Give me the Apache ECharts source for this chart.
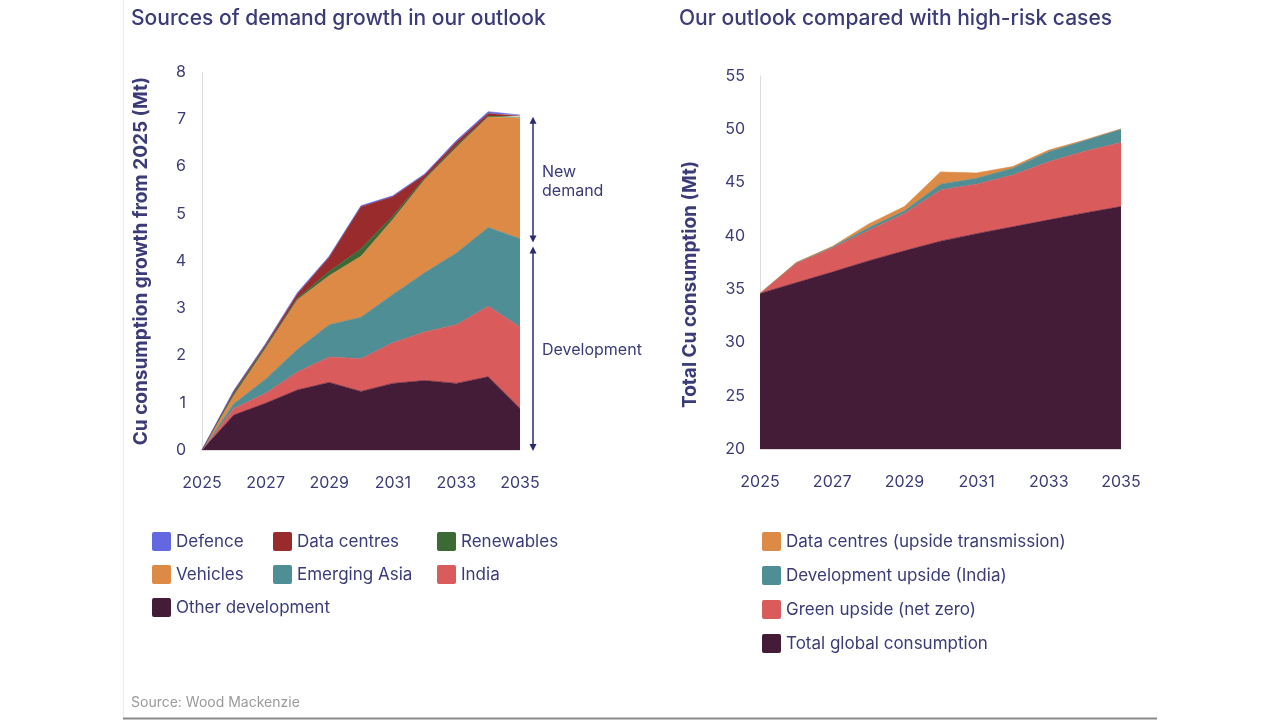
<!DOCTYPE html>
<html>
<head>
<meta charset="utf-8">
<script src="https://cdn.jsdelivr.net/npm/echarts@6/dist/echarts.min.js"></script>
<style>
html,body{margin:0;padding:0;background:#fff;}
#c{width:1280px;height:720px;}
</style>
</head>
<body>
<div id="c"></div>
<script>
// ---------- DATA ----------
const years = ['2025','2026','2027','2028','2029','2030','2031','2032','2033','2034','2035'];

// Left chart: growth from 2025 (Mt), stacked bottom -> top
const otherDevelopment = [0, 0.74, 0.99, 1.27, 1.43, 1.24, 1.41, 1.47, 1.41, 1.55, 0.88];
const india            = [0, 0.14, 0.21, 0.38, 0.54, 0.69, 0.86, 1.03, 1.24, 1.49, 1.72];
const emergingAsia     = [0, 0.10, 0.30, 0.48, 0.68, 0.88, 1.02, 1.25, 1.52, 1.67, 1.87];
const vehicles         = [0, 0.17, 0.65, 1.05, 1.04, 1.29, 1.59, 1.97, 2.23, 2.34, 2.55];
const renewables       = [0, 0.06, 0.04, 0.03, 0.09, 0.16, 0.07, 0.03, 0.04, 0.02, 0.02];
const dataCentres      = [0, 0.03, 0.04, 0.09, 0.30, 0.89, 0.41, 0.07, 0.08, 0.05, 0.03];
const defence          = [0, 0.02, 0.02, 0.03, 0.02, 0.02, 0.02, 0.02, 0.03, 0.04, 0.02];

// Right chart: total Cu consumption (Mt), stacked bottom -> top
const totalGlobal      = [34.6, 35.6, 36.6, 37.65, 38.6, 39.5, 40.2, 40.85, 41.5, 42.15, 42.75];
const greenUpside      = [0, 1.8, 2.25, 2.85, 3.5, 4.8, 4.65, 4.85, 5.45, 5.8, 6.0];
const devUpside        = [0, 0.05, 0.1, 0.25, 0.25, 0.55, 0.55, 0.65, 0.95, 1.0, 1.25];
const dcUpside         = [0, 0.05, 0.05, 0.35, 0.4, 1.15, 0.5, 0.15, 0.15, 0.05, 0.05];

// Bracket annotation levels on left chart (Mt): top of new demand, split, bottom
const bracketLevels = [7.03, 4.35, 0];
const bracketLabels = ['New\ndemand', 'Development'];

const leftTitle = 'Sources of demand growth in our outlook';
const rightTitle = 'Our outlook compared with high-risk cases';
const leftYName = 'Cu consumption growth from 2025 (Mt)';
const rightYName = 'Total Cu consumption (Mt)';
const sourceText = 'Source: Wood Mackenzie';

// ---------- STYLE ----------
const FONT = 'Inter, "Noto Sans", sans-serif';
const TXT = '#3b3b78';
const C = {
  defence: '#6368e0', data: '#9a2b2c', renew: '#3b6a34', veh: '#dc8a45',
  asia: '#4f8e95', india: '#d95b5c', other: '#441c38'
};

function area(name, data, color, stack, xi, yi) {
  return {
    name, type: 'line', stack, data, xAxisIndex: xi, yAxisIndex: yi,
    symbol: 'none', smooth: false,
    lineStyle: { width: 0.6, color },
    itemStyle: { color },
    areaStyle: { color, opacity: 1 },
    emphasis: { disabled: true },
    z: 2
  };
}

const chart = echarts.init(document.getElementById('c'));

const axisLabelStyle = { color: TXT, fontSize: 16, fontFamily: FONT };
const ICON = 'path://M2,0 L18,0 Q20,0 20,2 L20,18 Q20,20 18,20 L2,20 Q0,20 0,18 L0,2 Q0,0 2,0 Z';

function legend(left, top, data, gap) {
  return {
    left, top, orient: 'vertical', data, selectedMode: false,
    icon: ICON, itemWidth: 19, itemHeight: 19, itemGap: gap,
    textStyle: { color: TXT, fontSize: 17, fontFamily: FONT, padding: [0, 0, 0, 0] }
  };
}

const option = {
  animation: false,
  backgroundColor: '#fff',
  grid: [
    { left: 202, right: 760, top: 72, bottom: 270 },
    { left: 760, right: 159, top: 76, bottom: 271 }
  ],
  xAxis: [0, 1].map(i => ({
    type: 'category', gridIndex: i, data: years, boundaryGap: false,
    axisLine: { show: true, lineStyle: { color: '#dcdcdc' } },
    axisTick: { show: false },
    axisLabel: Object.assign({ interval: 1, margin: 25 }, axisLabelStyle),
    splitLine: { show: false }
  })),
  yAxis: [
    { type: 'value', gridIndex: 0, min: 0, max: 8, interval: 1,
      axisLine: { show: true, lineStyle: { color: '#dcdcdc' } },
      axisTick: { show: false }, splitLine: { show: false },
      axisLabel: Object.assign({ margin: 16 }, axisLabelStyle) },
    { type: 'value', gridIndex: 1, min: 20, max: 55, interval: 5,
      axisLine: { show: true, lineStyle: { color: '#dcdcdc' } },
      axisTick: { show: false }, splitLine: { show: false },
      axisLabel: Object.assign({ margin: 15 }, axisLabelStyle) }
  ],
  legend: [
    legend(147, 527, ['Defence', 'Vehicles', 'Other development'], 14),
    legend(268, 527, ['Data centres', 'Emerging Asia'], 14),
    legend(432, 527, ['Renewables', 'India'], 14),
    legend(757, 527, ['Data centres (upside transmission)', 'Development upside (India)', 'Green upside (net zero)', 'Total global consumption'], 15)
  ],
  series: [
    area('Other development', otherDevelopment, C.other, 'L', 0, 0),
    area('India', india, C.india, 'L', 0, 0),
    area('Emerging Asia', emergingAsia, C.asia, 'L', 0, 0),
    area('Vehicles', vehicles, C.veh, 'L', 0, 0),
    area('Renewables', renewables, C.renew, 'L', 0, 0),
    area('Data centres', dataCentres, C.data, 'L', 0, 0),
    area('Defence', defence, C.defence, 'L', 0, 0),
    area('Total global consumption', totalGlobal, C.other, 'R', 1, 1),
    area('Green upside (net zero)', greenUpside, C.india, 'R', 1, 1),
    area('Development upside (India)', devUpside, C.asia, 'R', 1, 1),
    area('Data centres (upside transmission)', dcUpside, C.veh, 'R', 1, 1)
  ]
};
chart.setOption(option);

// ---------- GRAPHICS (positions derived from the axes) ----------
const g = [];
// frame lines of the picture
g.push({ type: 'line', shape: { x1: 123.5, y1: 0, x2: 123.5, y2: 718 }, style: { stroke: '#ececec', lineWidth: 1 }, silent: true });
g.push({ type: 'line', shape: { x1: 123, y1: 718.5, x2: 1157, y2: 718.5 }, style: { stroke: '#8a8a8a', lineWidth: 2 }, silent: true });
// titles
g.push({ type: 'text', left: 131, top: 8, style: { text: leftTitle, fill: TXT, font: '500 21px ' + FONT } });
g.push({ type: 'text', left: 679, top: 8, style: { text: rightTitle, fill: TXT, font: '500 21px ' + FONT } });
g.push({ type: 'text', left: 131, top: 696, style: { text: sourceText, fill: '#9a9a9a', font: '14px ' + FONT } });

// y axis names
const lTop = chart.convertToPixel({ yAxisIndex: 0 }, 8), lBot = chart.convertToPixel({ yAxisIndex: 0 }, 0);
const rTop = chart.convertToPixel({ yAxisIndex: 1 }, 55), rBot = chart.convertToPixel({ yAxisIndex: 1 }, 20);
g.push({ type: 'text', x: 141, y: (lTop + lBot) / 2, rotation: Math.PI / 2,
  style: { text: leftYName, fill: TXT, font: 'bold 19px ' + FONT, align: 'center', verticalAlign: 'middle' } });
g.push({ type: 'text', x: 690, y: (rTop + rBot) / 2 + 22, rotation: Math.PI / 2,
  style: { text: rightYName, fill: TXT, font: 'bold 19px ' + FONT, align: 'center', verticalAlign: 'middle' } });

// bracket arrows
const ax = chart.convertToPixel({ xAxisIndex: 0 }, years[years.length - 1]) + 13;
const py = bracketLevels.map(v => chart.convertToPixel({ yAxisIndex: 0 }, v));
const NAVY = '#2b2b70';
function arrow(yTop, yBot) {
  g.push({ type: 'line', shape: { x1: ax, y1: yTop + 2, x2: ax, y2: yBot - 2 }, style: { stroke: NAVY, lineWidth: 1.5 }, silent: true });
  g.push({ type: 'polygon', shape: { points: [[ax, yTop - 1], [ax - 3.5, yTop + 6], [ax + 3.5, yTop + 6]] }, style: { fill: NAVY }, silent: true });
  g.push({ type: 'polygon', shape: { points: [[ax, yBot + 1], [ax - 3.5, yBot - 6], [ax + 3.5, yBot - 6]] }, style: { fill: NAVY }, silent: true });
}
arrow(py[0], py[1] - 3);
arrow(py[1] + 3, py[2]);
g.push({ type: 'text', x: ax + 9, y: (py[0] + py[1]) / 2 + 1, style: { text: bracketLabels[0], fill: TXT, font: '16px ' + FONT, verticalAlign: 'middle', lineHeight: 19 } });
g.push({ type: 'text', x: ax + 9, y: (py[1] + py[2]) / 2 + 3, style: { text: bracketLabels[1], fill: TXT, font: '16px ' + FONT, verticalAlign: 'middle' } });

chart.setOption({ graphic: g });
</script>
</body>
</html>
